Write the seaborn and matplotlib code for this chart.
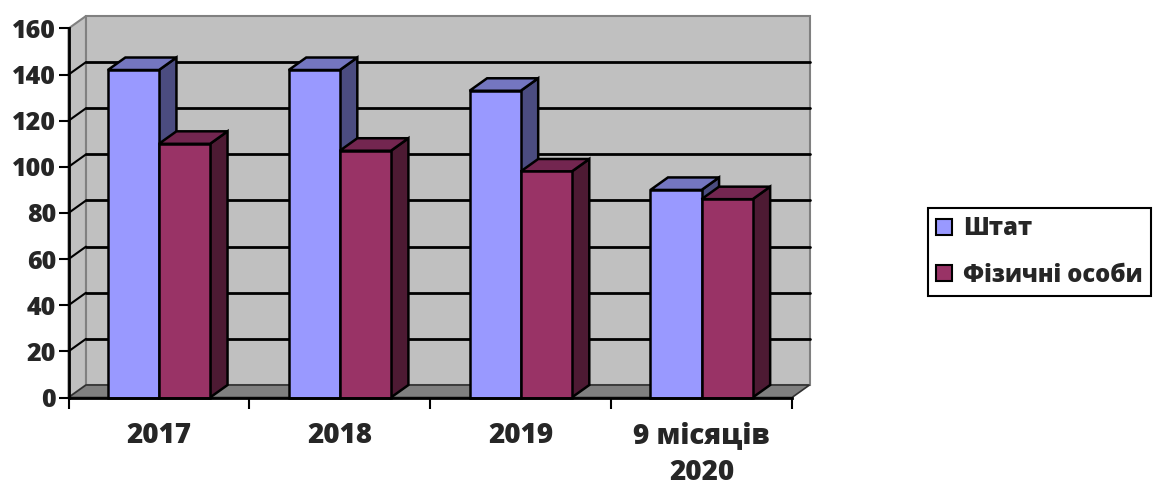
import matplotlib
matplotlib.use("Agg")
import matplotlib.pyplot as plt
from matplotlib.patches import Polygon, Patch, Rectangle
import seaborn as sns
import pandas as pd

categories = ["2017", "2018", "2019", "9 місяців\n2020"]
series_names = ["Штат", "Фізичні особи"]
shtat = [142, 142, 133, 90]
fizychni = [110, 107, 98, 86]
yticks = [0, 20, 40, 60, 80, 100, 120, 140, 160]

front_colors = ["#9999FF", "#993366"]
top_colors = ["#7476C0", "#732650"]
side_colors = ["#4B4C80", "#4D1A33"]

sns.set_style("white")
plt.rcParams["font.family"] = ["Open Sans", "DejaVu Sans"]
plt.rcParams["font.weight"] = "heavy"

W, H = 1163, 486
fig = plt.figure(figsize=(W / 100, H / 100), dpi=100)
fig.patch.set_facecolor("white")

x_left, x_right, y_bot, y_top = 68.5, 792, 397.5, 28.5
ax = fig.add_axes([x_left / W, 1 - y_bot / H, (x_right - x_left) / W, (y_bot - y_top) / H])
ax.patch.set_visible(False)

df = pd.DataFrame({
    "cat": categories * 2,
    "val": shtat + fizychni,
    "series": [series_names[0]] * 4 + [series_names[1]] * 4,
})

sns.barplot(data=df, x="cat", y="val", hue="series", order=categories,
            hue_order=series_names, palette=front_colors, width=0.565, gap=0,
            edgecolor="black", linewidth=1.8, legend=False, ax=ax, saturation=1)

bars = [p for p in ax.patches if isinstance(p, Rectangle) and p.get_height() > 0]
bars = sorted(bars, key=lambda p: p.get_x())

xmin, xmax = -0.5, len(categories) - 0.5
ymax = 160
ax.set_xlim(xmin, xmax)
ax.set_ylim(0, ymax)

# depth offsets in data units (from pixel offsets)
dx = 17.5 / ((x_right - x_left) / (xmax - xmin))
dy = 12.5 / ((y_bot - y_top) / ymax)

# walls and floor
side_wall = Polygon([(xmin, 0), (xmin + dx, dy), (xmin + dx, ymax + dy), (xmin, ymax)],
                    closed=True, facecolor="#C0C0C0", edgecolor="#808080", lw=1.5,
                    zorder=0.2, clip_on=False)
back_wall = Polygon([(xmin + dx, dy), (xmax + dx, dy), (xmax + dx, ymax + dy), (xmin + dx, ymax + dy)],
                    closed=True, facecolor="#C0C0C0", edgecolor="#808080", lw=1.5,
                    zorder=0.2, clip_on=False)
floor = Polygon([(xmin, 0), (xmax, 0), (xmax + dx, dy), (xmin + dx, dy)],
                closed=True, facecolor="#808080", edgecolor="#303030", lw=1.2,
                zorder=0.3, clip_on=False)
for p in (side_wall, back_wall, floor):
    ax.add_patch(p)

for v in yticks[1:-1]:
    ax.plot([xmin + dx, xmax + dx], [v + dy, v + dy], color="black", lw=2, zorder=0.5, clip_on=False)
    ax.plot([xmin, xmin + dx], [v, v + dy], color="black", lw=1.5, zorder=0.5, clip_on=False)

# 3D faces for bars
for i, b in enumerate(bars):
    x0, w, h = b.get_x(), b.get_width(), b.get_height()
    fc = matplotlib.colors.to_hex(b.get_facecolor()).upper()
    k = 0 if fc == front_colors[0].upper() else 1
    z = 2 + i * 0.1
    top = Polygon([(x0, h), (x0 + w, h), (x0 + w + dx, h + dy), (x0 + dx, h + dy)],
                  closed=True, facecolor=top_colors[k], edgecolor="black", lw=1.8,
                  zorder=z, clip_on=False)
    side = Polygon([(x0 + w, 0), (x0 + w + dx, dy), (x0 + w + dx, h + dy), (x0 + w, h)],
                   closed=True, facecolor=side_colors[k], edgecolor="black", lw=1.8,
                   zorder=z, clip_on=False)
    ax.add_patch(side)
    ax.add_patch(top)
    b.set_zorder(z + 0.05)
    b.set_clip_on(False)

# axes styling
for s in ("top", "right"):
    ax.spines[s].set_visible(False)
for s in ("left", "bottom"):
    ax.spines[s].set_color("black")
    ax.spines[s].set_linewidth(2)
    ax.spines[s].set_zorder(5)

ax.set_yticks(yticks)
ax.set_yticklabels([str(v) for v in yticks], fontsize=18, fontweight="heavy")
ax.tick_params(axis="y", direction="out", length=7, width=1.5, color="black", pad=2, left=True)

ax.set_xticks(range(len(categories)))
ax.set_xticklabels(categories, fontsize=20, fontweight="heavy", linespacing=1.38)
ax.set_xticks([xmin + i for i in range(len(categories) + 1)], minor=True)
ax.tick_params(axis="x", which="major", length=0, pad=17)
ax.tick_params(axis="x", which="minor", direction="out", length=8, width=1.5, color="black", bottom=True)
ax.set_xlabel("")
ax.set_ylabel("")
ax.grid(False)

handles = [Patch(facecolor=front_colors[0], edgecolor="black", lw=1.5),
           Patch(facecolor=front_colors[1], edgecolor="black", lw=1.5)]
leg = fig.legend(handles, series_names, loc="center left",
                 bbox_to_anchor=(928 / W, 1 - 252 / H), frameon=True, fancybox=False,
                 edgecolor="black", framealpha=1, handlelength=0.65, handleheight=0.65,
                 handletextpad=0.5, labelspacing=0.9, borderpad=0.35, borderaxespad=0,
                 prop={"size": 17, "weight": "heavy"})
leg.get_frame().set_linewidth(1.5)

fig.savefig("out.png", dpi=100)
